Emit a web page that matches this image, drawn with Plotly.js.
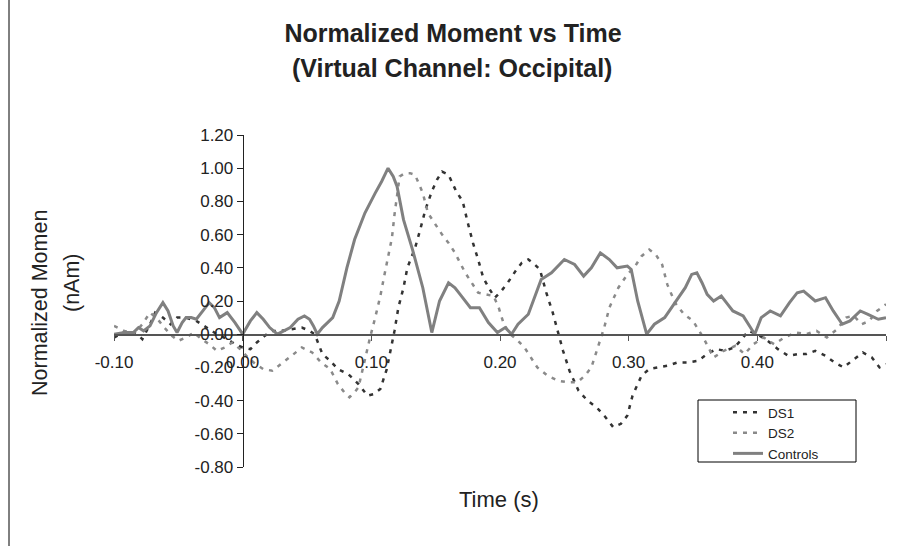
<!DOCTYPE html>
<html>
<head>
<meta charset="utf-8">
<script src="https://cdn.plot.ly/plotly-3.0.1.min.js"></script>
<style>html,body{margin:0;padding:0;background:#fff;}#chart{width:899px;height:546px;}</style>
</head>
<body>
<div id="chart"></div>
<script>
// ---- data ----
const ds1Time = [-0.100,-0.090,-0.082,-0.078,-0.072,-0.068,-0.062,-0.056,-0.051,-0.044,-0.036,-0.028,-0.020,-0.012,-0.006,0.000,0.006,0.011,0.017,0.023,0.030,0.038,0.046,0.052,0.056,0.062,0.068,0.074,0.082,0.090,0.097,0.102,0.107,0.112,0.115,0.118,0.121,0.125,0.128,0.134,0.138,0.142,0.147,0.151,0.155,0.160,0.166,0.171,0.175,0.179,0.183,0.187,0.192,0.196,0.201,0.206,0.212,0.217,0.222,0.227,0.231,0.236,0.241,0.245,0.249,0.254,0.261,0.268,0.275,0.282,0.288,0.294,0.299,0.303,0.310,0.316,0.323,0.330,0.338,0.346,0.354,0.361,0.368,0.375,0.382,0.388,0.393,0.400,0.408,0.416,0.424,0.431,0.438,0.445,0.453,0.460,0.467,0.474,0.482,0.489,0.495,0.500];
const ds1Values = [-0.02,0.02,0.00,-0.03,0.06,0.13,0.10,0.06,0.10,0.10,0.08,0.04,0.00,-0.03,-0.06,-0.08,-0.09,-0.05,-0.01,0.02,0.02,0.03,0.04,0.02,0.00,-0.12,-0.16,-0.21,-0.24,-0.30,-0.37,-0.36,-0.33,-0.21,-0.10,0.02,0.16,0.28,0.40,0.52,0.63,0.75,0.86,0.93,0.98,0.96,0.86,0.80,0.67,0.55,0.45,0.34,0.27,0.22,0.26,0.31,0.38,0.43,0.45,0.42,0.39,0.25,0.13,0.01,-0.10,-0.22,-0.34,-0.40,-0.44,-0.50,-0.56,-0.54,-0.49,-0.37,-0.25,-0.21,-0.20,-0.19,-0.17,-0.17,-0.16,-0.12,-0.09,-0.10,-0.08,-0.03,0.02,0.00,-0.04,-0.09,-0.13,-0.12,-0.12,-0.10,-0.13,-0.17,-0.20,-0.16,-0.11,-0.14,-0.20,-0.18];

const ds2Time = [-0.100,-0.092,-0.085,-0.078,-0.072,-0.066,-0.061,-0.055,-0.050,-0.044,-0.038,-0.032,-0.026,-0.020,-0.014,-0.008,-0.002,0.004,0.010,0.016,0.023,0.030,0.038,0.046,0.054,0.061,0.068,0.074,0.079,0.083,0.087,0.090,0.094,0.099,0.103,0.107,0.110,0.113,0.116,0.118,0.120,0.122,0.126,0.130,0.134,0.137,0.140,0.144,0.150,0.155,0.160,0.165,0.169,0.173,0.178,0.183,0.189,0.195,0.199,0.203,0.208,0.214,0.219,0.224,0.229,0.237,0.245,0.253,0.260,0.266,0.271,0.276,0.281,0.285,0.292,0.299,0.305,0.310,0.316,0.321,0.326,0.330,0.336,0.343,0.350,0.358,0.366,0.374,0.383,0.390,0.397,0.405,0.413,0.421,0.430,0.438,0.446,0.454,0.462,0.469,0.475,0.481,0.487,0.493,0.500];
const ds2Values = [0.05,0.02,0.00,0.06,0.13,0.09,0.04,-0.01,-0.04,-0.02,0.01,-0.03,-0.06,-0.10,-0.08,-0.05,-0.09,-0.14,-0.18,-0.21,-0.22,-0.18,-0.13,-0.08,-0.11,-0.17,-0.21,-0.30,-0.35,-0.38,-0.35,-0.32,-0.18,-0.02,0.10,0.23,0.35,0.47,0.58,0.72,0.85,0.95,0.97,0.97,0.96,0.91,0.85,0.73,0.66,0.60,0.55,0.49,0.43,0.37,0.31,0.25,0.24,0.23,0.16,0.06,0.00,-0.04,-0.08,-0.14,-0.20,-0.25,-0.28,-0.29,-0.29,-0.25,-0.20,-0.08,0.04,0.16,0.28,0.36,0.41,0.47,0.51,0.48,0.42,0.30,0.19,0.12,0.08,-0.02,-0.14,-0.10,-0.07,-0.12,-0.06,-0.02,-0.06,-0.02,0.01,0.00,0.02,-0.02,0.03,0.10,0.11,0.06,0.08,0.14,0.18];

const ctrlTime = [-0.100,-0.092,-0.085,-0.081,-0.077,-0.072,-0.067,-0.062,-0.058,-0.054,-0.051,-0.047,-0.044,-0.040,-0.036,-0.031,-0.026,-0.022,-0.018,-0.012,-0.006,0.000,0.006,0.011,0.016,0.021,0.027,0.032,0.037,0.043,0.048,0.052,0.055,0.058,0.062,0.066,0.070,0.075,0.081,0.087,0.095,0.103,0.108,0.113,0.117,0.120,0.125,0.132,0.140,0.147,0.153,0.160,0.165,0.169,0.177,0.184,0.191,0.198,0.204,0.209,0.214,0.222,0.227,0.232,0.240,0.250,0.258,0.265,0.271,0.278,0.285,0.291,0.299,0.302,0.307,0.314,0.320,0.328,0.336,0.344,0.349,0.353,0.357,0.361,0.366,0.372,0.377,0.381,0.389,0.394,0.398,0.403,0.410,0.418,0.425,0.431,0.436,0.445,0.453,0.459,0.466,0.472,0.480,0.486,0.489,0.494,0.500];
const ctrlValues = [0.00,0.01,0.01,0.04,0.02,0.05,0.13,0.19,0.14,0.05,0.01,0.07,0.10,0.10,0.09,0.14,0.19,0.16,0.10,0.13,0.07,0.00,0.08,0.13,0.09,0.04,0.00,0.02,0.04,0.09,0.11,0.09,0.05,0.00,0.04,0.07,0.10,0.20,0.40,0.57,0.73,0.85,0.92,1.00,0.95,0.89,0.69,0.51,0.28,0.01,0.20,0.31,0.28,0.24,0.16,0.16,0.07,0.01,0.04,0.00,0.06,0.12,0.22,0.33,0.37,0.45,0.42,0.35,0.40,0.49,0.45,0.40,0.41,0.39,0.20,0.00,0.06,0.10,0.19,0.28,0.36,0.37,0.31,0.24,0.20,0.23,0.18,0.14,0.11,0.05,0.00,0.10,0.14,0.11,0.19,0.25,0.26,0.20,0.22,0.14,0.06,0.08,0.14,0.12,0.11,0.09,0.10];

const seriesNames = ["DS1", "DS2", "Controls"];
const xTickVals = [-0.1, 0, 0.1, 0.2, 0.3, 0.4, 0.5];
const xTickText = ["-0.10", "0.00", "0.10", "0.20", "0.30", "0.40", "0.50"];
const yTickVals = [-0.8, -0.6, -0.4, -0.2, 0, 0.2, 0.4, 0.6, 0.8, 1.0, 1.2];
const yTickText = ["-0.80", "-0.60", "-0.40", "-0.20", "0.00", "0.20", "0.40", "0.60", "0.80", "1.00", "1.20"];
const titleLines = ["Normalized Moment vs Time", "(Virtual Channel: Occipital)"];
const yTitleLines = ["Normalized Momen", "(nAm)"];
const xTitle = "Time (s)";

// ---- chart ----
const FONT = "Liberation Sans, Arial, Helvetica, sans-serif";
const TXT = "#222";
const px = (p) => (p - 114) / 772;      // pixel x -> paper x
const py = (p) => (467 - p) / 332;      // pixel y -> paper y

const traces = [
  {x: ds1Time, y: ds1Values, name: seriesNames[0], type: "scatter", mode: "lines",
   line: {color: "#333333", width: 2.5, dash: "4px,6px"}},
  {x: ds2Time, y: ds2Values, name: seriesNames[1], type: "scatter", mode: "lines",
   line: {color: "#8a8a8a", width: 2.5, dash: "4px,6px"}},
  {x: ctrlTime, y: ctrlValues, name: seriesNames[2], type: "scatter", mode: "lines",
   line: {color: "#808080", width: 3}}
];

const layout = {
  width: 899, height: 546,
  margin: {l: 114, r: 13, t: 135, b: 79, pad: 0},
  paper_bgcolor: "#fff", plot_bgcolor: "#fff",
  font: {family: FONT, color: TXT},
  showlegend: true,
  title: {text: titleLines[0], x: 453/899, xref: "container", xanchor: "center",
          y: 1 - 33/546, yref: "container", yanchor: "middle",
          font: {family: FONT, size: 25, weight: "bold", color: TXT}},
  xaxis: {range: [-0.1, 0.5], tickmode: "array", tickvals: xTickVals, ticktext: xTickText,
          anchor: "free", position: 0.4, showline: true, linecolor: "#555", linewidth: 1.5,
          ticks: "outside", ticklen: 5, tickcolor: "#555", tickwidth: 1, ticklabelstandoff: 7,
          showgrid: false, zeroline: false, tickfont: {size: 17, color: TXT}},
  yaxis: {range: [-0.8, 1.2], tickmode: "array", tickvals: yTickVals, ticktext: yTickText,
          anchor: "free", position: 1/6, showline: true, linecolor: "#222", linewidth: 1,
          ticks: "outside", ticklen: 6, tickcolor: "#222", tickwidth: 1,
          showgrid: false, zeroline: false, tickfont: {size: 17, color: TXT}},
  legend: {x: px(728), y: py(397), xanchor: "left", yanchor: "top",
           bgcolor: "rgba(0,0,0,0)", borderwidth: 0,
           font: {size: 13.5, color: TXT}, tracegroupgap: 0},
  annotations: [
    {text: titleLines[1], xref: "paper", yref: "paper", x: px(452), y: py(68),
     xanchor: "center", yanchor: "middle", showarrow: false,
     font: {family: FONT, size: 25, weight: "bold", color: TXT}},
    {text: yTitleLines[0], xref: "paper", yref: "paper", x: px(40), y: py(303),
     xanchor: "center", yanchor: "middle", textangle: -90, showarrow: false,
     font: {family: FONT, size: 21.5, color: TXT}},
    {text: yTitleLines[1], xref: "paper", yref: "paper", x: px(72), y: py(283),
     xanchor: "center", yanchor: "middle", textangle: -90, showarrow: false,
     font: {family: FONT, size: 21.5, color: TXT}},
    {text: xTitle, xref: "paper", yref: "paper", x: px(499), y: py(500),
     xanchor: "center", yanchor: "middle", showarrow: false,
     font: {family: FONT, size: 22, color: TXT}}
  ],
  shapes: [
    {type: "line", xref: "paper", yref: "paper", x0: px(9), x1: px(9),
     y0: py(546), y1: py(0), line: {color: "#000", width: 1}},
    {type: "rect", xref: "paper", yref: "paper", x0: px(698), x1: px(856),
     y0: py(462), y1: py(400), line: {color: "#000", width: 1}, fillcolor: "#fff", layer: "above"}
  ]
};

Plotly.newPlot("chart", traces, layout, {displayModeBar: false, staticPlot: true});
</script>
</body>
</html>
